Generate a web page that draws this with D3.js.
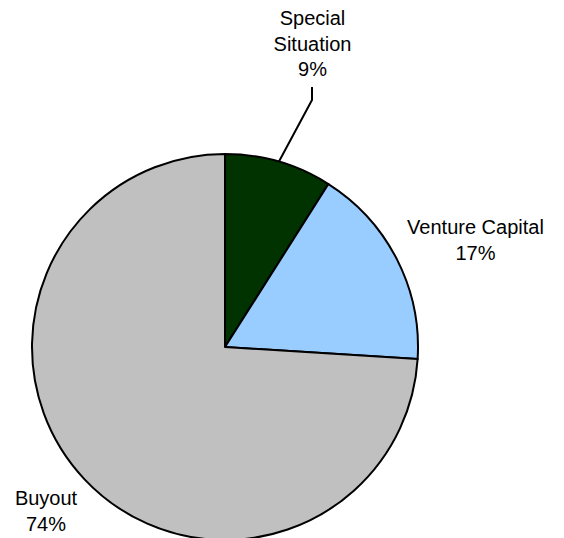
<!DOCTYPE html>
<html>
<head>
<meta charset="utf-8">
<script src="https://cdn.jsdelivr.net/npm/d3@7"></script>
<style>
  body { margin: 0; background: #fff; }
  svg { display: block; font-family: "Liberation Sans", Arial, sans-serif; }
</style>
</head>
<body>
<svg id="chart" width="564" height="538"></svg>
<script>
// data
const categories = ["Special Situation", "Venture Capital", "Buyout"];
const labelLines = [["Special", "Situation"], ["Venture Capital"], ["Buyout"]];
const shares = [9, 17, 74];
const colors = ["#003300", "#99ccff", "#c0c0c0"];

// layout
const CX = 225, CY = 347, R = 193;
const FONT = 20, LINE_H = 25.5;
// label anchor (center x, first baseline y) relative to pie center
const labelOffsets = [[87.5, -322], [250.5, -113], [-179, 158]];

const svg = d3.select("#chart");
const g = svg.append("g").attr("transform", "translate(" + CX + "," + CY + ")");

const pie = d3.pie().sort(null).value(d => d.value);
const arcs = pie(categories.map((c, i) => ({ name: c, value: shares[i], i: i })));
const arc = d3.arc().innerRadius(0).outerRadius(R);

g.selectAll("path.slice")
  .data(arcs)
  .enter().append("path")
  .attr("class", "slice")
  .attr("d", arc)
  .attr("fill", d => colors[d.data.i])
  .attr("stroke", "#000")
  .attr("stroke-width", 2)
  .attr("stroke-linejoin", "round");

// leader line for the small slice
const s0 = arcs[0];
const mid = (s0.startAngle + s0.endAngle) / 2;
const p0 = [Math.sin(mid) * R, -Math.cos(mid) * R];
const kneeX = labelOffsets[0][0] - 0.5;
g.append("polyline")
  .attr("points", [p0, [kneeX, -247], [kneeX, -260]].map(p => p.join(",")).join(" "))
  .attr("fill", "none")
  .attr("stroke", "#000")
  .attr("stroke-width", 2);

// labels
arcs.forEach(function (d, i) {
  const lines = labelLines[i].concat([d.data.value + "%"]);
  const t = g.append("text")
    .attr("text-anchor", "middle")
    .attr("font-size", FONT + "px")
    .attr("fill", "#000");
  lines.forEach(function (ln, k) {
    t.append("tspan")
      .attr("x", labelOffsets[i][0])
      .attr("y", labelOffsets[i][1] + k * LINE_H)
      .text(ln);
  });
});
</script>
</body>
</html>
